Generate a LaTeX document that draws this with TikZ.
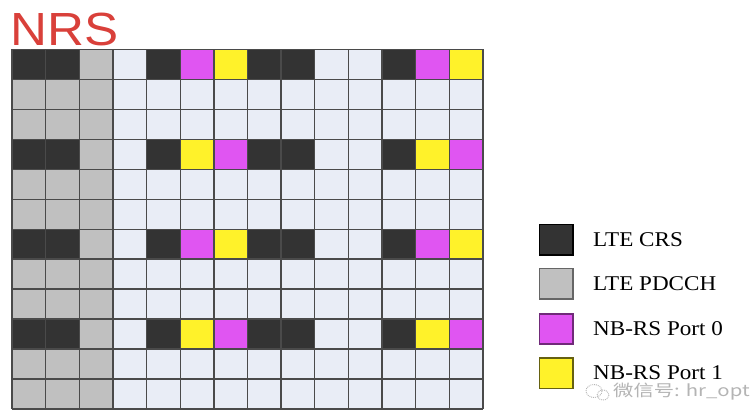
\documentclass[tikz,border=0pt]{standalone}
\usepackage{fontspec}
\setmainfont{Liberation Serif}
\newfontfamily\arialf{Liberation Sans}
\newfontfamily\cjkf{Noto Sans CJK SC}
\definecolor{crs}{HTML}{333333}
\definecolor{pdcch}{HTML}{C0C0C0}
\definecolor{emptyc}{HTML}{E9EDF6}
\definecolor{portzero}{HTML}{E055F2}
\definecolor{portone}{HTML}{FFF22A}
\definecolor{gridline}{HTML}{4A4A4A}
\definecolor{titlered}{HTML}{D9403A}
\definecolor{wmark}{HTML}{B4B4B4}
\tikzset{
  cellfill/.style={fill=#1},
  legbox/.style={draw=#1, line width=1.3pt},
  legtext/.style={anchor=west, inner sep=0pt, font=\fontsize{21}{24}\selectfont},
}
\newcommand{\cw}{33.64}
\newcommand{\rh}{29.95}
\newcommand{\gx}{12}
\newcommand{\gy}{49.5}
\newcommand{\mycell}[3]{\fill[#3] (\gx+#2*\cw,\gy+#1*\rh) rectangle ++(\cw,\rh);}
\begin{document}
\begin{tikzpicture}[x=1pt,y=-1pt]
\useasboundingbox (0,0) rectangle (751,409);
\fill[white] (0,0) rectangle (751,409);
% title
\node[anchor=south west, inner sep=0pt, text=titlered, font=\arialf\fontsize{46.5}{50}\selectfont] (title) at (10.5,46) {\scalebox{1.1}[1]{NRS}};
% grid background
\fill[emptyc] (\gx,\gy) rectangle ++(14*\cw,12*\rh);
\fill[pdcch] (\gx,\gy) rectangle ++(3*\cw,12*\rh);
% CRS rows
\foreach \r/\a/\b in {0/portzero/portone,3/portone/portzero,6/portzero/portone,9/portone/portzero}{
  \foreach \c in {0,1,4,7,8,11}{\mycell{\r}{\c}{crs}}
  \mycell{\r}{5}{\a}
  \mycell{\r}{6}{\b}
  \mycell{\r}{12}{\a}
  \mycell{\r}{13}{\b}
}
% grid lines
\foreach \c in {0,...,14}{\draw[gridline, line width=1.4pt] (\gx+\c*\cw,\gy) -- ++(0,12*\rh);}
\foreach \r in {0,...,12}{\draw[gridline, line width=1.4pt] (\gx,\gy+\r*\rh) -- ++(14*\cw,0);}
% legend
\filldraw[fill=crs, legbox=black] (539.5,224.5) rectangle (573,255) ;
\filldraw[fill=pdcch, legbox=gray!80!black] (539.5,268.5) rectangle (573,299);
\filldraw[fill=portzero, legbox=portzero!50!black] (539.5,314) rectangle (573,344);
\filldraw[fill=portone, legbox=portone!40!black] (539.5,358) rectangle (573,388.5);
\node[legtext] (l1) at (593,239.5) {\scalebox{1.1}[1]{LTE CRS}};
\node[legtext] (l2) at (593,283.5) {\scalebox{1.1}[1]{LTE PDCCH}};
\node[legtext] (l3) at (593,329) {\scalebox{1.1}[1]{NB-RS Port 0}};
\node[legtext] (l4) at (593,373) {\scalebox{1.1}[1]{NB-RS Port 1}};
% watermark
\draw[wmark, densely dotted, line width=0.9pt] (594,391) ellipse (8 and 6.5);
\draw[wmark, densely dotted, line width=0.9pt] (603,395) ellipse (6 and 5);
\node[anchor=west, inner sep=0pt, text=wmark, font=\cjkf\fontsize{16}{17}\selectfont] (wm) at (613,392) {\scalebox{1.27}[1]{微信号: hr\_opt}};
\end{tikzpicture}
\end{document}
